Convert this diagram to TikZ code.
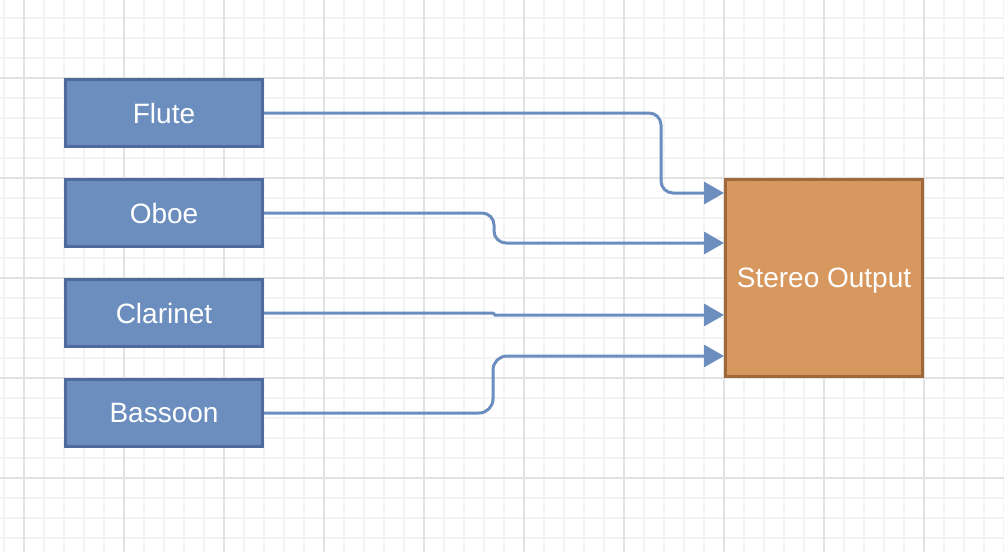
\documentclass[tikz,border=0pt]{standalone}
\usepackage{fontspec}
\setmainfont{Liberation Sans}
\usetikzlibrary{arrows.meta}
\definecolor{instfill}{HTML}{6C8EBF}
\definecolor{instdraw}{HTML}{4F6A9C}
\definecolor{outfill}{HTML}{D7985F}
\definecolor{outdraw}{HTML}{A0693B}
\definecolor{edgecol}{HTML}{6C8EBF}
\definecolor{gridminor}{HTML}{F3F3F3}
\definecolor{gridmajor}{HTML}{E2E2E2}
\tikzset{
  inst/.style={draw=instdraw, fill=instfill, line width=3pt, minimum width=197pt, minimum height=67pt, text=white, font=\fontsize{28pt}{30pt}\selectfont, inner sep=0pt, text depth=0pt},
  outbox/.style={draw=outdraw, fill=outfill, line width=3pt, minimum width=197pt, minimum height=197pt, text=white, font=\fontsize{28pt}{30pt}\selectfont, inner sep=0pt, text depth=0pt},
  conn/.style={draw=edgecol, line width=3pt, -{Triangle[length=20pt,width=22pt]}},
}
\begin{document}
\begin{tikzpicture}[x=1pt,y=-1pt]
\useasboundingbox (0,0) rectangle (1004,552);
\fill[white] (0,0) rectangle (1004,552);
% grid
\foreach \x in {4,24,...,1004} \draw[gridminor, line width=1.5pt] (\x,0) -- (\x,552);
\foreach \y in {18,38,...,552} \draw[gridminor, line width=1.5pt] (0,\y) -- (1004,\y);
\foreach \x in {24,124,...,1004} \draw[gridmajor, line width=1.8pt] (\x,0) -- (\x,552);
\foreach \y in {78,178,...,552} \draw[gridmajor, line width=1.8pt] (0,\y) -- (1004,\y);
% nodes
\node[inst] (flute) at (164,113) {Flute};
\node[inst] (oboe) at (164,213) {Oboe};
\node[inst] (clar) at (164,313) {Clarinet};
\node[inst] (bass) at (164,413) {Bassoon};
\node[outbox] (out) at (824,278) {Stereo Output};
\coordinate (in1) at (724,193);
\coordinate (in2) at (724,243);
\coordinate (in3) at (724,315);
\coordinate (in4) at (724,356);
% connectors
\draw[conn, rounded corners=12pt] (flute.east) -- (661,113) -- (661,193) -- (in1);
\draw[conn, rounded corners=12pt] (oboe.east) -- (494,213) -- (494,243) -- (in2);
\draw[conn, rounded corners=1pt] (clar.east) -- (494,313) -- (494,315) -- (in3);
\draw[conn, rounded corners=14pt] (bass.east) -- (493,413) -- (493,356) -- (in4);
\end{tikzpicture}
\end{document}
